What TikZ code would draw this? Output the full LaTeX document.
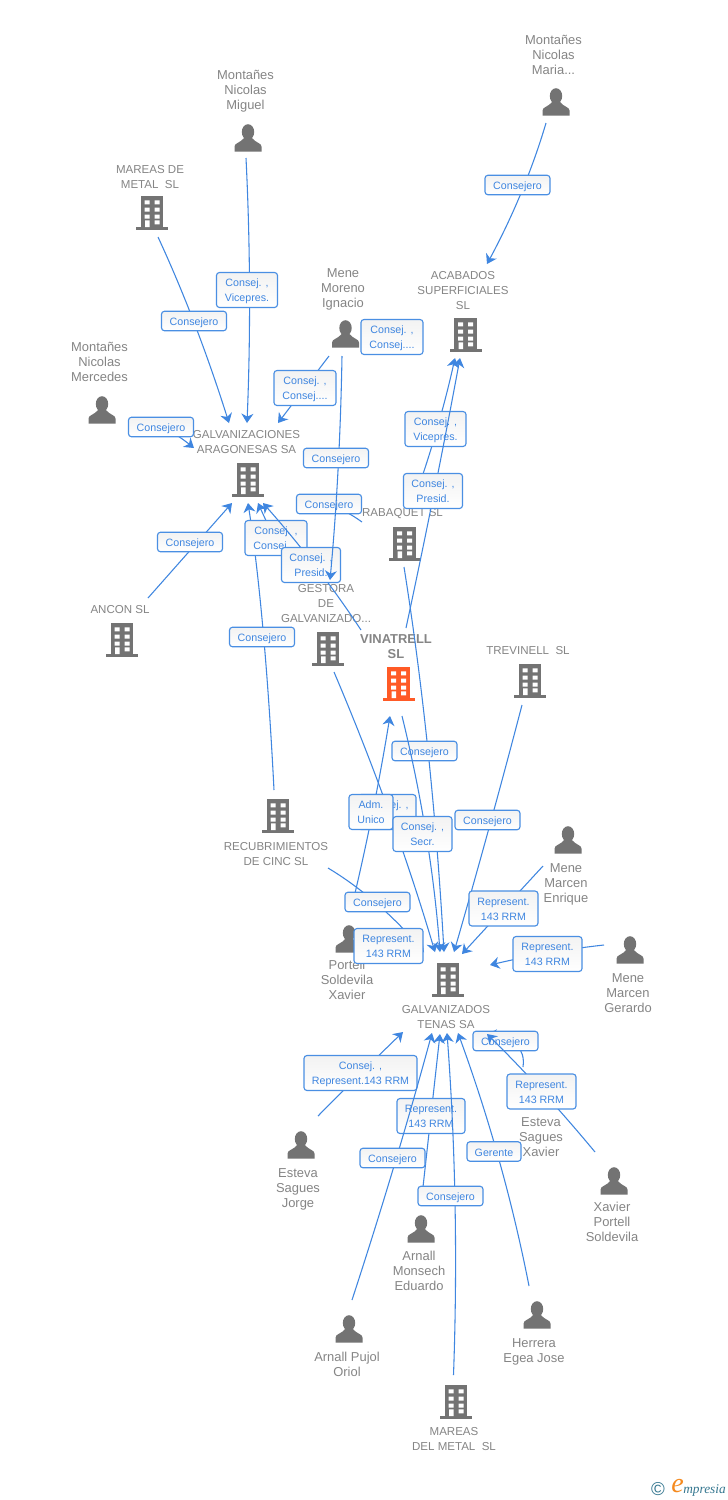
\documentclass[tikz,border=0pt]{standalone}
\usepackage{fontspec}
\setmainfont{Liberation Sans}
\newfontfamily\logofont{Liberation Serif}
\usetikzlibrary{calc,arrows.meta}
\definecolor{lnk}{HTML}{3F86E0}
\definecolor{bxb}{HTML}{4A8FE3}
\definecolor{lbl}{HTML}{858585}
\definecolor{ico}{HTML}{737373}
\definecolor{hot}{HTML}{FF5A26}
\definecolor{logot}{HTML}{357790}
\definecolor{logoo}{HTML}{F58A1F}
\tikzset{
  x=0.75pt,y=-0.75pt,
  linkline/.style={draw=lnk,line width=0.8pt,-{Stealth[length=7pt,width=9pt,inset=2.2pt]}},
  linkbox/.style={draw=bxb,line width=0.85pt,rounded corners=2.2pt,top color=black!5,bottom color=white,
    text=lnk,font=\fontsize{8}{11.25}\selectfont,align=center,inner sep=0pt},
  boxone/.style={linkbox,minimum height=14.6pt,text height=7.5pt,text depth=0.7pt},
  boxtwo/.style={linkbox,minimum height=26.2pt,text height=17.6pt,text depth=0.2pt},
  entlabel/.style={text=lbl,font=\fontsize{8.65}{11.25}\selectfont,align=center,inner sep=0pt,yshift=-0.6pt},
  entname/.style={text=lbl,font=\fontsize{9.7}{11.25}\selectfont,align=center,inner sep=0pt},
  icobox/.style={minimum width=23pt,minimum height=25pt,inner sep=0pt},
}
\newcommand\conn[4]{%
  \coordinate (#1s) at (#2); \coordinate (#1m) at (#3); \coordinate (#1e) at (#4);
  \draw[linkline] (#1s) .. controls ($1.3333*(#1m)-0.3333*(#1e)$) and ($1.3333*(#1m)-0.3333*(#1s)$) .. (#1e);}
\newcommand\lone[4]{\node[boxone,minimum width=#3*0.75pt] (#1b) at (#2) {#4};}
\newcommand\ltwo[4]{\node[boxtwo,minimum width=#3*0.75pt] (#1b) at (#2) {#4};}
\newcommand\bld[3]{%
  \node[icobox] (#1) at (#2) {};
  \begin{scope}[shift={(#2)}]
    \fill[#3] (-11.3,-16.7) rectangle (11.3,14);
    \fill[#3] (-16,14) rectangle (16,16.7);
    \fill[white] (-7.3,-12.7) rectangle (-2.3,-8.7) (2.7,-12.7) rectangle (7.7,-8.7)
      (-7.3,-5.3) rectangle (-2.3,-1.3) (2.7,-5.3) rectangle (7.7,-1.3)
      (-7.3,1.7) rectangle (-2.3,5.7) (2.7,1.7) rectangle (7.7,5.7)
      (-7,7.3) rectangle (-2.3,14) (2.7,7.3) rectangle (7.7,11.3);
  \end{scope}}
\newcommand\pers[2]{%
  \node[icobox,minimum height=20pt,minimum width=20pt] (#1) at (#2) {};
  \begin{scope}[shift={(#2)}]
    \fill[ico] (0,-6) ellipse [x radius=6.2,y radius=7.8];
    \fill[ico] (-13.5,13.7) -- (-13.5,8.5) .. controls (-13.5,5) and (-7,4.5) .. (-4,0)
      -- (4,0) .. controls (7,4.5) and (13.5,5) .. (13.5,8.5) -- (13.5,13.7) -- cycle;
  \end{scope}}
\begin{document}
\begin{tikzpicture}
\useasboundingbox (0,0) rectangle (728,1500);
\fill[white] (0,0) rectangle (728,1500);
% entity icons
\bld{galv}{248,480}{ico}
\bld{acab}{465.5,335}{ico}
\bld{raba}{404.5,544}{ico}
\bld{gest}{328,649}{ico}
\bld{vina}{398.5,684}{hot}
\bld{tena}{448,980}{ico}
\bld{mare}{152,213}{ico}
\bld{anco}{122,640}{ico}
\bld{trev}{530,681}{ico}
\bld{recu}{278,816}{ico}
\bld{mdel}{456,1402}{ico}
\pers{pmar}{556,102}
\pers{pmig}{248,138}
\pers{pmen}{345.5,334}
\pers{pmer}{102,410}
\pers{ppor}{349,939}
\pers{penr}{568,840}
\pers{pger}{630,950}
\pers{pjor}{301,1145}
\pers{pmon}{421,1229}
\pers{ppuj}{349,1329}
\pers{pher}{537,1315}
\pers{pxav}{614,1181}
% entity labels
\node[entname] (tmar) at (553.5,55) {Montañes\\Nicolas\\Maria...};
\node[entname] (tmig) at (245.5,91) {Montañes\\Nicolas\\Miguel};
\node[entlabel] (tmare) at (150,176) {MAREAS DE\\METAL\ \ SL};
\node[entname] (tmen) at (343,289) {Mene\\Moreno\\Ignacio};
\node[entlabel] (tacab) at (463,289.5) {ACABADOS\\SUPERFICIALES\\SL};
\node[entname] (tmer) at (99.5,362) {Montañes\\Nicolas\\Mercedes};
\node[entlabel] (tgalv) at (246.5,441.5) {GALVANIZACIONES\\ARAGONESAS SA};
\node[entlabel] (traba) at (402.5,513) {RABAQUET SL};
\node[entlabel] (tanco) at (120,609) {ANCON SL};
\node[entlabel] (tgest) at (326,603) {GESTORA\\DE\\GALVANIZADO...};
\node[entlabel,font=\fontsize{9.7}{11.25}\selectfont\bfseries] (tvina) at (396,645.5) {VINATRELL\\SL};
\node[entlabel] (ttrev) at (528,650) {TREVINELL\ \ SL};
\node[entlabel] (trecu) at (276,853.5) {RECUBRIMIENTOS\\DE CINC SL};
\node[entname] (tpor) at (347,980) {Portell\\Soldevila\\Xavier};
\node[entname] (tenr) at (566,884) {Mene\\Marcen\\Enrique};
\node[entname] (tger) at (628,993) {Mene\\Marcen\\Gerardo};
\node[entlabel] (ttena) at (446,1016.5) {GALVANIZADOS\\TENAS SA};
\node[entname] (tjor) at (298,1189) {Esteva\\Sagues\\Jorge};
\node[entname] (tesx) at (541,1137) {Esteva\\Sagues\\Xavier};
\node[entname] (txav) at (612,1222) {Xavier\\Portell\\Soldevila};
\node[entname] (tmon) at (419,1271) {Arnall\\Monsech\\Eduardo};
\node[entname] (tpuj) at (347,1364.5) {Arnall Pujol\\Oriol};
\node[entname] (ther) at (534,1351.5) {Herrera\\Egea Jose};
\node[entlabel] (tmdel) at (454,1438.5) {MAREAS\\DEL METAL\ \ SL};
% connectors and their labels, in drawing order
\conn{a}{546,123}{521,193}{487,264} \lone{a}{517.5,185}{65}{Consejero}
\conn{b}{246,158}{249.5,290}{247,423} \ltwo{b}{247,290}{61}{Consej. ,\\Vicepres.}
\conn{c}{158,237}{195,325}{229,423} \lone{c}{194,321}{65}{Consejero}
\conn{d}{135,422}{161,427}{194,448} \lone{d}{161,427}{65}{Consejero}
\conn{e}{329,356}{303.5,389.5}{278,423} \ltwo{e}{305,388}{62}{Consej. ,\\Consej....}
\node[boxtwo,minimum width=62*0.75pt] (fb) at (392,337) {Consej. ,\\Consej....};
\conn{g}{148,598}{190,550.5}{232,503} \lone{g}{190,542}{65}{Consejero}
\conn{h}{274,790}{263,630}{248,503} \lone{h}{262,637}{65}{Consejero}
\conn{i}{290,570}{274,537.5}{258,503} \ltwo{i}{276,538}{62}{Consej. ,\\Consej....}
\conn{j}{362,522}{329,505}{296,502} \lone{j}{329,504}{65}{Consejero}
\conn{k}{361,630}{316,567}{263,503} \ltwo{k}{311,565}{59}{Consej. ,\\Presid.}
\conn{l}{342,356}{338,470}{330,580} \lone{l}{336,458}{65}{Consejero}
\conn{m}{421,480}{439.5,420}{455,358} \ltwo{m}{435.5,429}{61}{Consej. ,\\Vicepres.}
\conn{n}{406,628}{434,493}{460,358} \ltwo{n}{433,491}{59}{Consej. ,\\Presid.}
\conn{o}{404,567}{428,751}{444,952} \lone{o}{424.5,751}{65}{Consejero}
\conn{p}{334,672}{389,812}{435,952} \ltwo{p}{387,812}{58}{Consej. ,\\Secr.}
\conn{q}{351,910}{372,815}{390,716} \ltwo{q}{371,812}{44}{Adm.\\Unico}
\conn{r}{402,716}{426,834}{440,952} \ltwo{r}{422.5,834}{59}{Consej. ,\\Secr.}
\conn{s}{522,705}{489,828}{454,952} \lone{s}{487.5,820}{65}{Consejero}
\conn{t}{328,868}{377,904}{424,952} \lone{t}{377.5,902}{65}{Consejero}
\conn{v}{360,942}{388,946}{424,952} \ltwo{v}{388.5,946}{69}{Represent.\\143 RRM}
\conn{w}{543,866}{502.5,910}{462,954} \ltwo{w}{503.5,908.5}{69}{Represent.\\143 RRM}
\conn{x}{604,945}{548,953}{490,965} \ltwo{x}{547.5,954}{69}{Represent.\\143 RRM}
\conn{y}{523,1067}{516,1045}{487,1034} \lone{y}{505.5,1041}{65}{Consejero}
\conn{z}{595,1152}{541,1090}{487,1034} \ltwo{z}{541.5,1091.5}{69}{Represent.\\143 RRM}
\conn{aa}{318,1116}{360,1074}{403,1032} \ltwo{aa}{360.5,1073}{113}{Consej. ,\\Represent.143 RRM}
\conn{ab}{422,1196}{431,1115}{440,1034} \ltwo{ab}{431,1116}{68}{Represent.\\143 RRM}
\conn{ac}{352,1300}{394,1166}{432,1033} \lone{ac}{392.5,1158}{65}{Consejero}
\conn{ad}{529,1286}{499,1160}{458,1033} \lone{ad}{494,1151.5}{54}{Gerente}
\conn{ae}{453.5,1375}{455,1204}{447,1033} \lone{ae}{450.5,1196}{65}{Consejero}
% logo
\node[inner sep=0pt,text=logot,font=\fontsize{14}{14}\selectfont] (logoc) at (658,1489) {©};
\node[inner sep=0pt,text=logoo,font=\logofont\fontsize{21}{21}\selectfont\itshape] (logoe) at (677.5,1486) {e};
\node[inner sep=0pt,text=logot,font=\logofont\fontsize{10}{10}\selectfont\itshape,anchor=west] (logotx) at (683,1490) {mpresia};
\end{tikzpicture}
\end{document}
